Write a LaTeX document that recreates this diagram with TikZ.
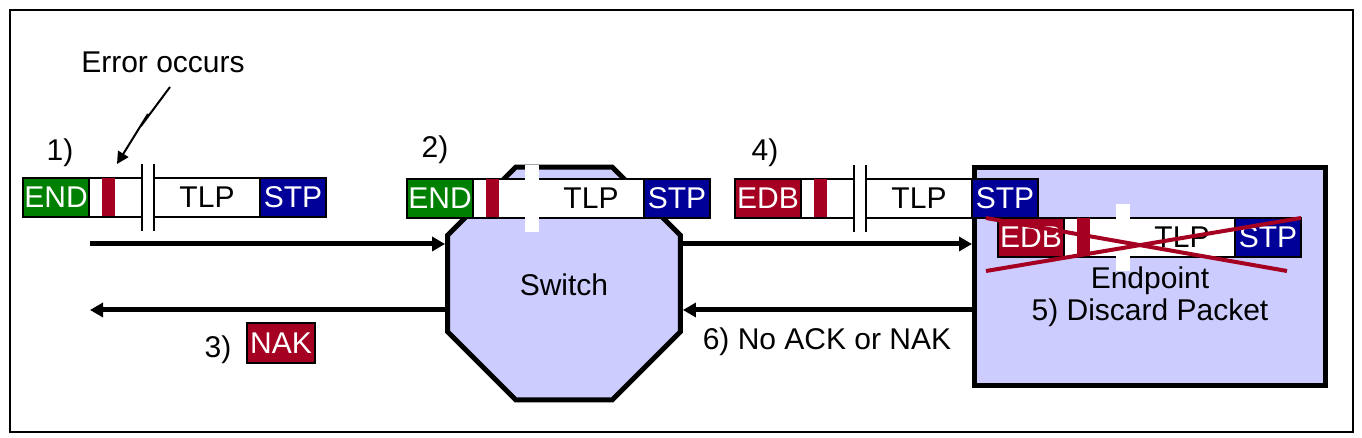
\documentclass[tikz,border=0pt]{standalone}
\usepackage{fontspec}
\setmainfont{Liberation Sans}
\usetikzlibrary{shapes.geometric,positioning,arrows.meta}
\definecolor{endgreen}{RGB}{0,128,0}
\definecolor{edbred}{RGB}{165,0,33}
\definecolor{stpblue}{RGB}{0,0,153}
\definecolor{lilac}{RGB}{204,204,255}
\tikzset{pcell/.style={draw,line width=0.75pt,inner sep=0pt,outer sep=0pt,minimum height=19.5pt},
  hdr/.style={pcell,minimum width=33pt,text=white},
  body/.style={pcell,fill=white,minimum width=26.5pt},
  errbar/.style={fill=edbred,inner sep=0pt,outer sep=0pt,minimum width=6.5pt,minimum height=19pt},
  cut/.style={inner sep=0pt,outer sep=0pt,minimum width=6pt,minimum height=33.5pt},
  tlp/.style={pcell,fill=white,minimum width=53pt},
  stp/.style={pcell,fill=stpblue,minimum width=33pt,text=white},
  flow/.style={->,line width=2.5pt}}
% #1 name, #2 top left corner, #3 header text, #4 header colour, #5 colour of the cut lines
\newcommand{\packetrow}[5]{%
  \node[hdr,fill=#4,anchor=north west] (#1h) at (#2) {#3};
  \node[body,right=0pt of #1h] (#1w) {};
  \node[errbar,right=6.5pt of #1h] (#1r) {};
  \node[cut,right=0pt of #1w] (#1g) {};
  \node[tlp,right=0pt of #1g] (#1t) {TLP};
  \node[stp,right=0pt of #1t] (#1s) {STP};
  \fill[white] ([xshift=-0.4pt]#1g.north west) rectangle ([xshift=0.4pt]#1g.south east);
  \draw[draw=#5,line width=0.75pt] (#1g.north west) -- (#1g.south west) (#1g.north east) -- (#1g.south east);
}
\begin{document}
\begin{tikzpicture}[x=0.5pt,y=-0.5pt,>={Triangle[length=6.5pt,width=7pt]},font=\fontsize{15}{18}\selectfont]
    \useasboundingbox (0,0) rectangle (1362,438);
    \draw[line width=0.75pt] (10,10) rectangle (1353,432);

    \node[regular polygon,regular polygon sides=8,minimum size=126pt,draw,fill=lilac,line width=2.5pt] (sw) at (564,283.5) {};
    \node (swt) at (564,285) {Switch};
    \node[draw,fill=lilac,line width=2.5pt,minimum width=175.5pt,minimum height=109pt] (ep) at (1150,276.5) {};

    \packetrow{pa}{23,178}{END}{endgreen}{black}
    \packetrow{pb}{407,179}{END}{endgreen}{white}
    \packetrow{pd}{735,179}{EDB}{edbred}{black}
    \packetrow{pq}{998,218}{EDB}{edbred}{white}

    % discarded packet
    \draw[edbred,line width=2pt] ([xshift=-6pt]pqh.north west) -- ([xshift=-7pt,yshift=-7pt]pqs.south east);
    \draw[edbred,line width=2pt] ([xshift=-6pt,yshift=-7pt]pqh.south west) -- (pqs.north east);

    \node (n1) at (60,153) {1)};
    \node (n2) at (435,150) {2)};
    \node (n3) at (218,350) {3)};
    \node (n4) at (765,153) {4)};
    \node[draw,line width=0.75pt,fill=edbred,text=white,inner sep=0pt,minimum width=34pt,minimum height=20pt] (nak) at (281,343) {NAK};
    \node (noack) at (827,342) {6) No ACK or NAK};
    \node[align=center,inner sep=0pt] (ept) at (1150,297) {Endpoint\\[-2pt]5) Discard Packet};
    \node (err) at (163,62) {Error occurs};

    \coordinate (bolt) at (170,87);
    \coordinate (hit) at (117,164);
    \draw[->,line width=1pt,>={Triangle[length=6pt,width=6pt]}] (bolt) -- (141,126) -- (148,114) -- (hit);

    \coordinate (la) at (90,244);
    \coordinate (lb) at (90,310);
    \draw[flow] (la) -- (la -| sw.west);
    \draw[flow] (lb -| sw.west) -- (lb);
    \draw[flow] (sw.east |- la) -- (ep.west |- la);
    \draw[flow] (ep.west |- lb) -- (sw.east |- lb);
\end{tikzpicture}
\end{document}
